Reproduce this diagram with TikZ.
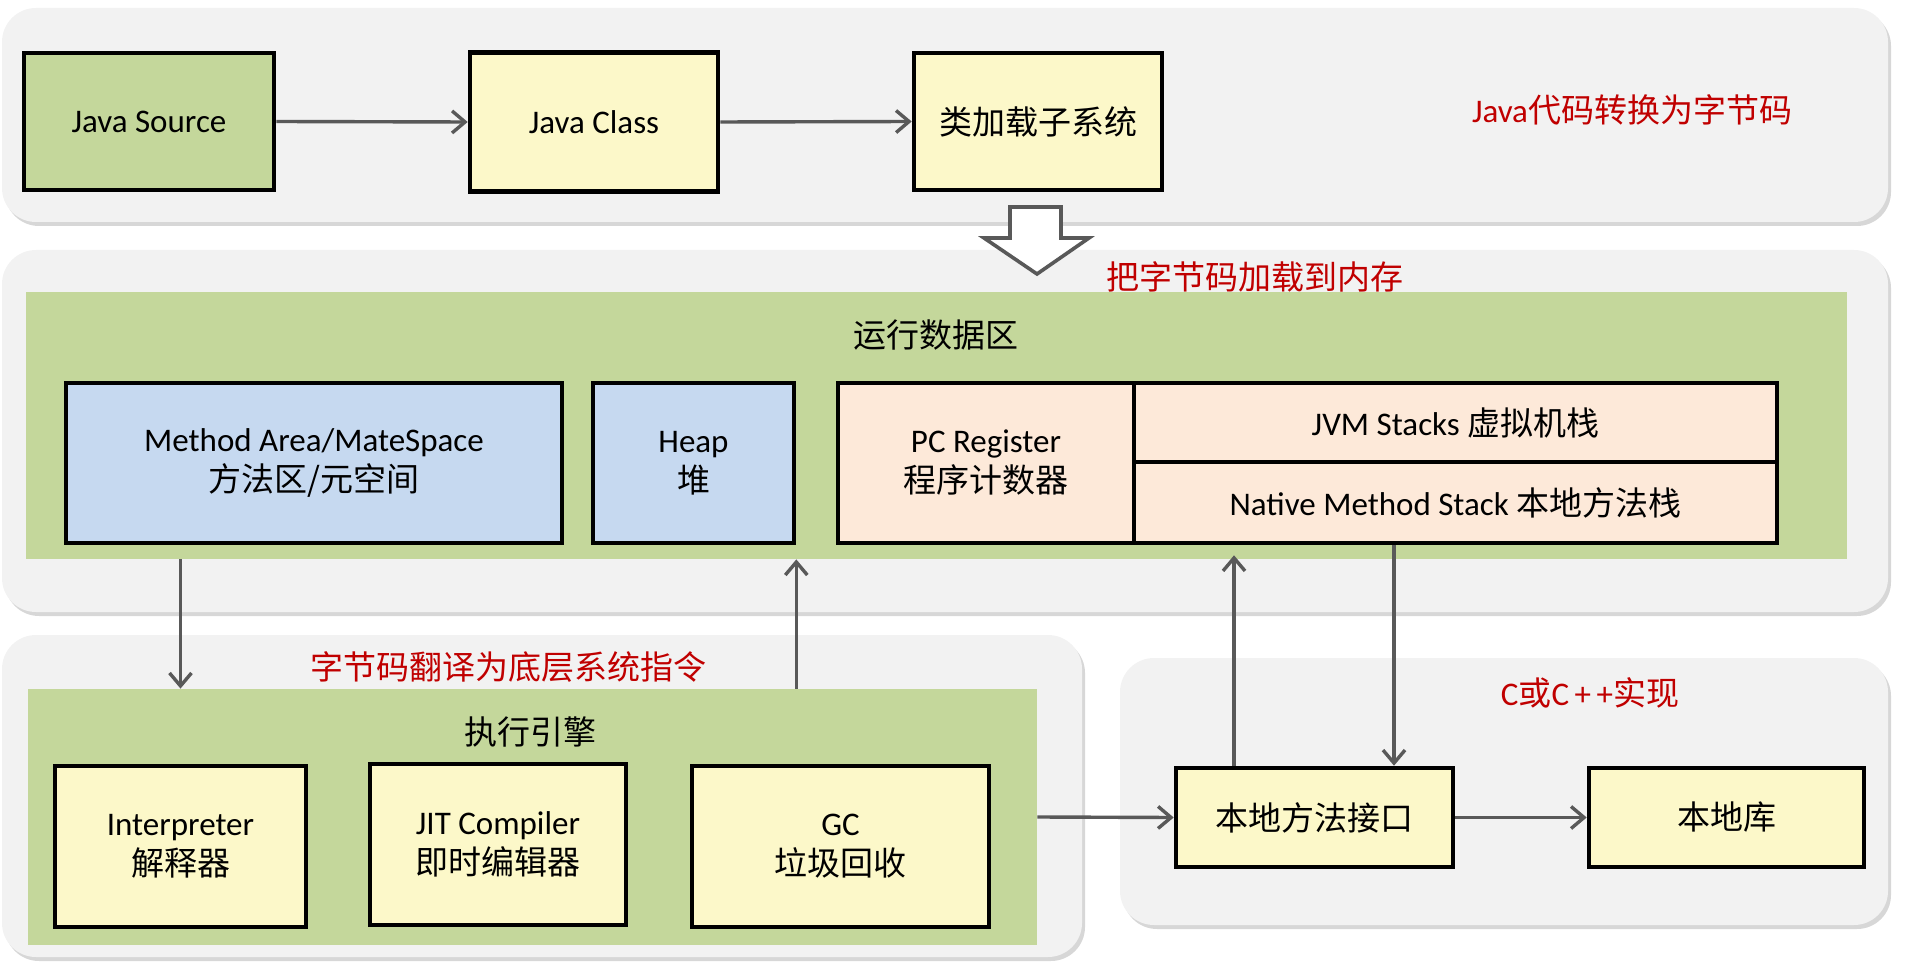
\documentclass[tikz,border=0pt]{standalone}
\usepackage{fontspec}
\setmainfont{Carlito}
\newfontfamily\cjk{Noto Sans CJK SC}
\usetikzlibrary{arrows.meta,shadows}
\definecolor{panelbg}{HTML}{F2F2F2}
\definecolor{olivefill}{HTML}{C4D79B}
\definecolor{paleyellow}{HTML}{FCF8C9}
\definecolor{paleblue}{HTML}{C6D9F0}
\definecolor{salmonfill}{HTML}{FDE9D9}
\definecolor{labelred}{HTML}{C00000}
\definecolor{arrowgray}{HTML}{595959}
\newcommand\myfs{\fontsize{16.5pt}{20pt}\selectfont}
\tikzset{
  panel/.style={fill=panelbg, rounded corners=17pt,
    drop shadow={shadow xshift=1.5pt, shadow yshift=-2pt, opacity=0.35, fill=black!45}},
  region/.style={fill=olivefill, draw=none, inner sep=0pt},
  box/.style={draw=black, line width=2.3pt, inner sep=2pt, align=center, font=\myfs},
  srcbox/.style={box, fill=olivefill},
  ybox/.style={box, fill=paleyellow},
  bbox/.style={box, fill=paleblue},
  sbox/.style={box, fill=salmonfill},
  title/.style={font=\myfs, inner sep=0pt},
  redlabel/.style={font=\myfs, text=labelred, inner sep=0pt},
  arr/.style={draw=arrowgray, line width=1.7pt, -{Straight Barb[length=6.5pt,width=11pt]}},
  hollow/.style={draw=arrowgray, line width=1.8pt, fill=white, line join=miter}
}
\begin{document}
\begin{tikzpicture}[x=0.5pt,y=-0.5pt]
\useasboundingbox (0,0) rectangle (1922,962);
% panels
\path[panel] (2,8) rectangle (1888,222);
\path[panel] (2,250) rectangle (1888,612);
\path[panel] (2,635) rectangle (1082,957);
\path[panel] (1120,658) rectangle (1888,925);

% top row
\node[srcbox, minimum width=125pt, minimum height=68.5pt] (src) at (149,121.5) {Java Source};
\node[ybox, minimum width=124pt, minimum height=69.5pt] (cls) at (594,122) {Java Class};
\node[ybox, minimum width=124pt, minimum height=68.5pt] (cl) at (1038,121.5) {{\cjk 类加载子系统}};
\node[redlabel] (lbl1) at (1632,110) {Java{\cjk 代码转换为字节码}};
\draw[arr] (src.east) -- (cls.west);
\draw[arr] (cls.east) -- (cl.west);

% hollow arrow
\draw[hollow] (1010,207) -- (1061,207) -- (1061,238) -- (1089,238) -- (1037,274) -- (984,238) -- (1010,238) -- cycle;
\node[redlabel] (lbl2) at (1255,277) {{\cjk 把字节码加载到内存}};

% runtime data area
\node[region, minimum width=910.5pt, minimum height=133.5pt] (rda) at (936.5,425.5) {};
\node[title] (rdat) at (936,335) {{\cjk 运行数据区}};
\node[bbox, minimum width=248pt, minimum height=80pt] (ma) at (314,463) {Method Area/MateSpace\\{\cjk 方法区/元空间}};
\node[bbox, minimum width=100.5pt, minimum height=80pt] (heap) at (693.5,463) {Heap\\{\cjk 堆}};
\node[sbox, minimum width=148pt, minimum height=80pt] (pc) at (986,463) {PC Register\\{\cjk 程序计数器}};
\node[sbox, minimum width=321.5pt, minimum height=39.5pt] (jvm) at (1455.5,422.5) {JVM Stacks {\cjk 虚拟机栈}};
\node[sbox, minimum width=321.5pt, minimum height=40.5pt] (nms) at (1455.5,502.5) {Native Method Stack {\cjk 本地方法栈}};

% execution engine
\node[region, minimum width=504.5pt, minimum height=128pt] (ee) at (532.5,817) {};
\node[redlabel] (lbl3) at (508,667) {{\cjk 字节码翻译为底层系统指令}};
\node[title] (eet) at (530,732) {{\cjk 执行引擎}};
\node[ybox, minimum width=125.5pt, minimum height=80.5pt] (interp) at (180.5,846.5) {Interpreter\\{\cjk 解释器}};
\node[ybox, minimum width=128pt, minimum height=80.5pt] (jit) at (498,844.5) {JIT Compiler\\{\cjk 即时编辑器}};
\node[ybox, minimum width=148.5pt, minimum height=80.5pt] (gc) at (840.5,846.5) {GC\\{\cjk 垃圾回收}};

% native
\node[redlabel] (lbl4) at (1590,693) {C{\cjk 或}C\,+\,+{\cjk 实现}};
\node[ybox, minimum width=138.5pt, minimum height=49.5pt] (jni) at (1314.5,817.5) {{\cjk 本地方法接口}};
\node[ybox, minimum width=137.5pt, minimum height=49.5pt] (lib) at (1726.5,817.5) {{\cjk 本地库}};

% connectors
\coordinate (upx) at (1234,0);
\coordinate (dnx) at (1394,0);
\draw[arr] (interp.north |- rda.south) -- (interp.north |- ee.north);
\draw[arr] (ee.north -| heap.east) -- (rda.south -| heap.east);
\draw[arr] (ee.east) -- (jni.west);
\draw[arr] (jni.east) -- (lib.west);
\draw[arr] (jni.north -| upx) -- ([yshift=-5pt]nms.south -| upx);
\draw[arr] (nms.south -| dnx) -- (jni.north -| dnx);
\end{tikzpicture}
\end{document}
